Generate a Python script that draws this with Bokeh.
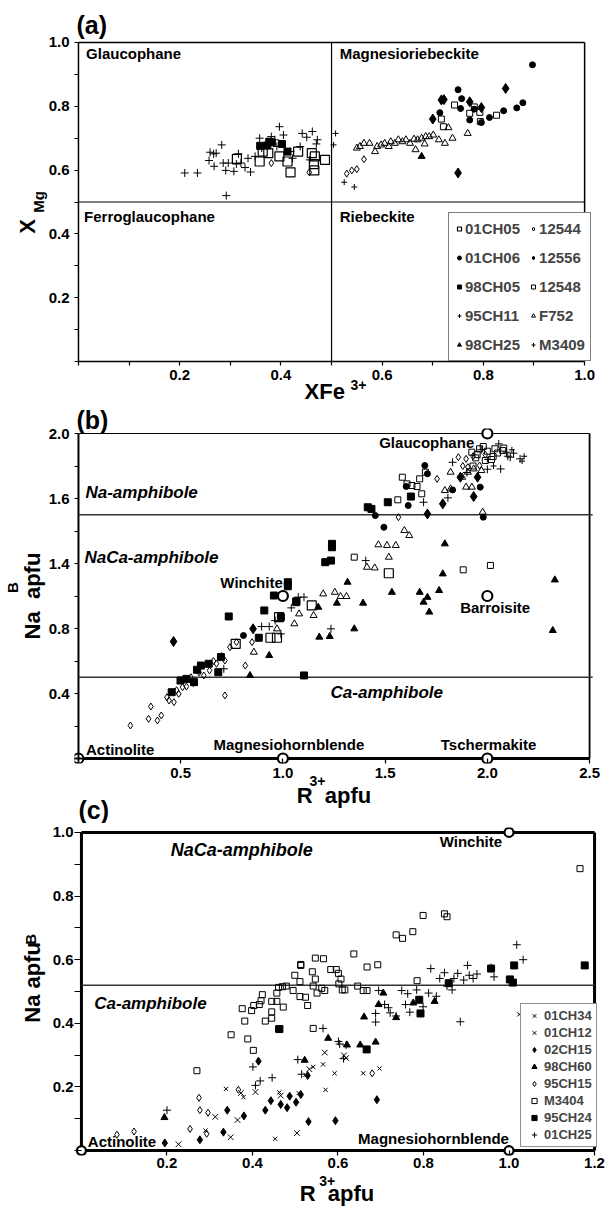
import math
from bokeh.plotting import figure
from bokeh.layouts import column
from bokeh.models import (Range1d, FixedTicker, CustomJSTickFormatter, Label, LinearAxis,
                          Legend, LegendItem, Title)
from bokeh.embed import file_html
from bokeh.resources import INLINE

FONT = "Liberation Sans"
NB = "\u00a0"

# ---------------- Panel (a) data : XFe3+ vs XMg ----------------
A_01CH05_x = [0.313, 0.358, 0.364, 0.375, 0.397, 0.413, 0.419, 0.434, 0.461, 0.467, 0.465, 0.466, 0.487]
A_01CH05_y = [0.635, 0.627, 0.658, 0.653, 0.643, 0.627, 0.593, 0.658, 0.653, 0.643, 0.619, 0.599, 0.632]
A_12544_x = [0.381, 0.456, 0.530, 0.540, 0.550, 0.564]
A_12544_y = [0.622, 0.593, 0.589, 0.599, 0.603, 0.634]
A_01CH06_x = [0.714, 0.750, 0.757, 0.755, 0.773, 0.782, 0.796, 0.812, 0.840, 0.866, 0.878, 0.897]
A_01CH06_y = [0.780, 0.852, 0.824, 0.793, 0.757, 0.791, 0.749, 0.765, 0.786, 0.795, 0.811, 0.930]
A_12556_x = [0.700, 0.717, 0.722, 0.773, 0.796, 0.844, 0.750]
A_12556_y = [0.760, 0.820, 0.821, 0.814, 0.796, 0.856, 0.591]
A_98CH05_x = [0.359, 0.373, 0.377, 0.382, 0.402, 0.413]
A_98CH05_y = [0.676, 0.677, 0.689, 0.687, 0.682, 0.658]
A_12548_x = [0.717, 0.721, 0.743, 0.773, 0.782, 0.793, 0.794, 0.826]
A_12548_y = [0.760, 0.736, 0.804, 0.778, 0.798, 0.781, 0.752, 0.772]
A_95CH11_x = [0.210, 0.235, 0.258, 0.260, 0.267, 0.272, 0.268, 0.283, 0.286, 0.291,
              0.292, 0.296, 0.307, 0.312, 0.321, 0.329, 0.340, 0.316, 0.335, 0.349,
              0.358, 0.362, 0.381, 0.388, 0.397, 0.392, 0.405, 0.419, 0.423, 0.438,
              0.442, 0.451, 0.457, 0.462, 0.472, 0.470]
A_95CH11_y = [0.591, 0.591, 0.630, 0.656, 0.651, 0.653, 0.612, 0.679, 0.622, 0.599,
              0.520, 0.622, 0.596, 0.619, 0.622, 0.608, 0.594, 0.651, 0.637, 0.643,
              0.700, 0.669, 0.705, 0.695, 0.736, 0.674, 0.710, 0.658, 0.637, 0.674,
              0.715, 0.703, 0.632, 0.721, 0.695, 0.682]
A_F752_x = [0.550, 0.556, 0.564, 0.575, 0.586, 0.590, 0.598, 0.605, 0.613, 0.617,
            0.625, 0.632, 0.640, 0.647, 0.655, 0.663, 0.670, 0.678, 0.686, 0.693,
            0.701, 0.666, 0.684, 0.712, 0.724, 0.739, 0.731, 0.769]
A_F752_y = [0.669, 0.674, 0.684, 0.684, 0.658, 0.674, 0.679, 0.684, 0.674, 0.689,
            0.684, 0.695, 0.689, 0.695, 0.684, 0.697, 0.695, 0.700, 0.705, 0.705,
            0.710, 0.664, 0.682, 0.695, 0.684, 0.700, 0.733, 0.715]
A_98CH25_x = [0.678]
A_98CH25_y = [0.643]
A_M3409_x = [0.508, 0.504, 0.525, 0.545]
A_M3409_y = [0.715, 0.679, 0.562, 0.547]

A_xticks = [0.2, 0.4, 0.6, 0.8, 1.0]
A_xminor = [0.0, 0.1, 0.3, 0.5, 0.7, 0.9]
A_yticks = [0.2, 0.4, 0.6, 0.8, 1.0]
A_yminor = [0.0, 0.1, 0.3, 0.5, 0.7, 0.9]
A_divide = 0.5
A_xmax = 1.0
A_ymax = 1.0

# ---------------- Panel (b) data : R3+ vs NaB ----------------
B_01CH05_x = [0.939, 0.971, 0.981, 0.769, 1.141, 1.518]
B_01CH05_y = [0.743, 0.743, 0.870, 0.706, 0.942, 1.140]
B_12548_x = [1.584, 1.669, 1.697, 1.607, 1.631, 1.656, 1.679, 1.562, 1.349, 1.882,
             2.015, 1.924, 1.962, 2.000, 2.037, 2.075, 1.943, 1.990, 2.028, 1.950,
             1.980, 2.050, 2.080, 1.930, 2.020]
B_12548_y = [1.731, 1.721, 1.762, 1.690, 1.680, 1.674, 1.629, 1.592, 1.239, 1.161,
             1.188, 1.885, 1.906, 1.891, 1.906, 1.895, 1.850, 1.834, 1.858, 1.870,
             1.920, 1.880, 1.910, 1.800, 1.840]
B_12544_x = [1.858, 1.896, 1.754, 1.565, 1.905, 1.962, 0.254, 0.354, 0.343, 0.386,
             0.405, 0.433, 0.443, 0.467, 0.490, 0.509, 0.528, 0.562, 0.613, 0.641,
             0.675, 0.716, 0.741, 0.773, 0.816, 0.716, 0.849, 0.480, 0.550, 0.590,
             0.660, 0.700, 1.930, 1.990, 1.880]
B_12544_y = [1.854, 1.844, 1.721, 1.485, 1.793, 1.803, 0.203, 0.320, 0.244, 0.234,
             0.265, 0.377, 0.357, 0.347, 0.398, 0.439, 0.443, 0.464, 0.511, 0.542,
             0.583, 0.603, 0.685, 0.716, 0.572, 0.388, 0.716, 0.420, 0.500, 0.530,
             0.600, 0.630, 1.860, 1.870, 1.800]
B_01CH06_x = [1.694, 1.707, 1.603, 1.613, 1.452, 1.494, 1.830, 1.965, 1.980, 0.807]
B_01CH06_y = [1.803, 1.752, 1.674, 1.557, 1.495, 1.423, 1.653, 1.670, 1.485, 0.757]
B_12556_x = [1.707, 1.782, 1.933, 1.952, 1.868, 0.465, 0.854]
B_12556_y = [1.505, 1.567, 1.612, 1.731, 1.731, 0.720, 0.798]
B_98CH05_x = [1.415, 1.433, 1.513, 1.626, 1.240, 1.240, 1.207, 1.235, 1.024, 1.024,
              0.956, 1.066, 0.735, 0.909, 0.990, 0.882, 0.684, 0.697, 0.637, 0.599,
              0.580, 0.565, 0.528, 0.499, 0.456, 1.103, 1.065]
B_98CH05_y = [1.546, 1.536, 1.577, 1.612, 1.321, 1.300, 1.208, 1.218, 1.085, 1.060,
              1.003, 0.968, 0.874, 0.911, 0.870, 0.743, 0.531, 0.624, 0.583, 0.572,
              0.546, 0.470, 0.490, 0.480, 0.408, 0.511, 0.962]
B_95CH11_x = [2.056, 2.128, 2.160, 2.094, 2.112, 2.065, 1.830, 1.807, 1.688, 1.405,
              1.075, 1.103, 0.711, 0.896, 0.933, 0.962, 0.990, 1.041, 1.235, 1.970,
              2.100, 2.000, 1.900]
B_95CH11_y = [1.936, 1.879, 1.844, 1.885, 1.854, 1.782, 1.823, 1.604, 1.577, 1.218,
              0.993, 0.993, 0.552, 0.812, 0.812, 0.849, 0.767, 0.927, 0.798, 1.900,
              1.860, 1.780, 1.760]
B_F752_x = [1.820, 1.877, 1.905, 1.933, 1.971, 1.792, 1.820, 1.896, 1.924, 1.977,
            1.594, 1.618, 1.467, 1.509, 1.552, 1.518, 1.411, 1.449, 1.197, 1.254,
            1.282, 1.311, 0.858, 0.971, 1.056, 1.079, 1.150]
B_F752_y = [1.762, 1.731, 1.762, 1.782, 1.772, 1.649, 1.659, 1.670, 1.670, 1.516,
            1.403, 1.372, 1.315, 1.311, 1.311, 1.239, 1.177, 1.173, 1.013, 1.023,
            0.997, 0.997, 0.654, 0.798, 0.829, 0.890, 0.880]
B_98CH25_x = [1.316, 1.792, 1.782, 1.533, 1.669, 1.764, 1.707, 1.688, 1.392, 1.264,
              2.330, 1.716, 1.349, 1.178, 1.229, 2.320, 0.839, 0.933, 1.173]
B_98CH25_y = [1.085, 1.321, 1.136, 1.023, 1.023, 1.034, 0.992, 0.962, 0.956, 0.956,
              1.099, 0.901, 0.798, 0.747, 0.751, 0.788, 0.511, 0.634, 0.931]
B_M3409_x = [2.180, 2.000, 2.030, 2.120, 2.170]
B_M3409_y = [1.860, 1.840, 1.800, 1.900, 1.830]

B_end_x = [2.0, 1.0, 2.0, 1.0, 2.0]     # Glaucophane, Winchite, Barroisite, Mg-hornblende, Tschermakite
B_end_y = [2.0, 1.0, 1.0, 0.0, 0.0]
B_act_x = [0.0]                          # Actinolite
B_act_y = [0.0]
B_divide = [1.5, 0.5]
B_line_end = 2.515
B_xmax = 2.5
B_ymax = 2.0
B_xticks = [0.5, 1.0, 1.5, 2.0, 2.5]
B_yticks = [0.4, 0.8, 1.2, 1.6, 2.0]
B_yminor = [0.0, 0.2, 0.6, 1.0, 1.4, 1.8]

# ---------------- Panel (c) data : R3+ vs NaB ----------------
C_M3404_x = [0.350, 0.389, 0.382, 0.398, 0.376, 0.403, 0.416, 0.420, 0.423, 0.445,
             0.445, 0.430, 0.445, 0.457, 0.457, 0.461, 0.472, 0.470, 0.479, 0.495,
             0.499, 0.513, 0.511, 0.511, 0.524, 0.529, 0.540, 0.542, 0.547, 0.547,
             0.551, 0.562, 0.566, 0.569, 0.583, 0.596, 0.601, 0.607, 0.602, 0.610,
             0.616, 0.637, 0.646, 0.659, 0.668, 0.668, 0.693, 0.736, 0.751, 0.775,
             0.799, 0.849, 0.855, 0.785, 1.166, 0.461, 0.542, 0.402, 0.270, 0.513]
C_M3404_y = [0.364, 0.351, 0.407, 0.440, 0.446, 0.456, 0.459, 0.471, 0.490, 0.469,
             0.436, 0.407, 0.416, 0.469, 0.495, 0.513, 0.451, 0.515, 0.517, 0.503,
             0.551, 0.585, 0.531, 0.484, 0.482, 0.456, 0.562, 0.517, 0.605, 0.539,
             0.495, 0.510, 0.603, 0.503, 0.569, 0.569, 0.557, 0.539, 0.524, 0.505,
             0.505, 0.618, 0.517, 0.503, 0.503, 0.577, 0.584, 0.678, 0.667, 0.688,
             0.739, 0.744, 0.735, 0.534, 0.886, 0.382, 0.384, 0.315, 0.251, 0.582]
C_95CH24_x = [0.958, 1.012, 1.002, 1.009, 1.177, 0.790, 0.793, 0.463, 0.859, 0.667]
C_95CH24_y = [0.572, 0.582, 0.538, 0.528, 0.582, 0.474, 0.431, 0.382, 0.526, 0.318]
C_98CH60_x = [0.706, 0.695, 0.661, 0.736, 0.776, 0.826, 0.577, 0.621, 0.652, 0.688, 0.522, 0.194]
C_98CH60_y = [0.495, 0.459, 0.420, 0.418, 0.464, 0.469, 0.353, 0.332, 0.332, 0.341, 0.284, 0.104]
C_02CH15_x = [0.195, 0.277, 0.332, 0.341, 0.380, 0.414, 0.430, 0.443, 0.466, 0.481,
              0.487, 0.502, 0.513, 0.529, 0.531, 0.594, 0.691]
C_02CH15_y = [0.024, 0.034, 0.058, 0.127, 0.109, 0.281, 0.127, 0.157, 0.145, 0.135,
              0.171, 0.152, 0.176, 0.236, 0.091, 0.094, 0.160]
C_95CH15_x = [0.083, 0.123, 0.254, 0.275, 0.277, 0.296, 0.293, 0.680, 0.367]
C_95CH15_y = [0.050, 0.060, 0.068, 0.166, 0.127, 0.119, 0.053, 0.243, 0.191]
C_01CH34_x = [0.227, 0.313, 0.349, 0.365, 0.373, 0.407, 0.466, 0.504, 0.533, 0.569, 0.614, 0.619, 1.045]
C_01CH34_y = [0.020, 0.106, 0.042, 0.096, 0.181, 0.184, 0.173, 0.055, 0.256, 0.308, 0.299, 0.291, 0.418]
C_01CH12_x = [0.290, 0.338, 0.379, 0.463, 0.453, 0.508, 0.524, 0.542, 0.565, 0.571, 0.592, 0.659, 0.697, 1.024]
C_01CH12_y = [0.063, 0.194, 0.168, 0.183, 0.037, 0.181, 0.238, 0.263, 0.271, 0.191, 0.243, 0.243, 0.258, 0.428]
C_01CH25_x = [0.200, 0.401, 0.407, 0.418, 0.446, 0.506, 0.515, 0.565, 0.601, 0.613,
              0.604, 0.619, 0.695, 0.688, 0.688, 0.709, 0.718, 0.722, 0.736, 0.749,
              0.763, 0.758, 0.768, 0.784, 0.799, 0.812, 0.817, 0.830, 0.838, 0.849,
              0.855, 0.867, 0.871, 0.880, 0.886, 0.894, 0.903, 0.907, 0.916, 0.925,
              0.958, 0.965, 1.018, 1.033]
C_01CH25_y = [0.127, 0.263, 0.205, 0.219, 0.229, 0.286, 0.240, 0.384, 0.343, 0.289,
              0.335, 0.332, 0.503, 0.431, 0.404, 0.459, 0.449, 0.433, 0.423, 0.503,
              0.493, 0.459, 0.435, 0.505, 0.452, 0.495, 0.572, 0.485, 0.541, 0.559,
              0.517, 0.505, 0.541, 0.557, 0.405, 0.536, 0.582, 0.551, 0.541, 0.555,
              0.575, 0.546, 0.647, 0.600]

C_end_x = [1.0, 1.0, 0.0]     # Winchite, Mg-hornblende, Actinolite
C_end_y = [1.0, 0.0, 0.0]
C_divide = [0.52]
C_xmax = 1.2
C_ymax = 1.0
C_xticks = [0.2, 0.4, 0.6, 0.8, 1.0, 1.2]
C_yticks = [0.2, 0.4, 0.6, 0.8, 1.0]
C_yminor = [0.0, 0.1, 0.3, 0.5, 0.7, 0.9]

# ---------------- marker styles ----------------
STY = {
    "big_open_sq": dict(marker="square", size=9, line_color="black", fill_color=None, line_width=1.2),
    "small_open_sq": dict(marker="square", size=6, line_color="black", fill_color=None, line_width=1),
    "filled_sq": dict(marker="square", size=7, line_color="black", fill_color="black"),
    "filled_circle": dict(marker="circle", size=6, line_color="black", fill_color="black"),
    "filled_diamond": dict(marker="diamond", size=10, line_color="black", fill_color="black"),
    "open_diamond": dict(marker="diamond", size=7, line_color="black", fill_color=None, line_width=1),
    "plus": dict(marker="cross", size=8, line_color="black", line_width=1),
    "small_plus": dict(marker="cross", size=6, line_color="black", line_width=1),
    "open_tri": dict(marker="triangle", size=7, line_color="black", fill_color=None, line_width=1),
    "filled_tri": dict(marker="triangle", size=7, line_color="black", fill_color="black"),
    "big_x": dict(marker="x", size=8, line_color="black", line_width=1),
    "small_x": dict(marker="x", size=6, line_color="black", line_width=1),
}

# common horizontal frame for all three panels (Bokeh aligns frames in a column)
LEFT = 70
RIGHT = 9
FRAME_W = 608 - LEFT - RIGHT


def fmt(override=False):
    if override:
        return CustomJSTickFormatter(code="if (Math.abs(tick-1.2)<1e-6) {return '1.4';} return tick.toFixed(1);")
    return CustomJSTickFormatter(code="return tick.toFixed(1);")


def lab(p, x, y, text, size, italic=False, align="left", baseline="middle"):
    p.add_layout(Label(x=x, y=y, text=text, text_font=FONT, text_font_size=f"{size}px",
                       text_font_style="bold italic" if italic else "bold",
                       text_align=align, text_baseline=baseline, text_color="black"))


def title_axis(p, side, text, size, standoff):
    ax = LinearAxis(ticker=FixedTicker(ticks=[]), axis_label=text, axis_label_standoff=standoff,
                    axis_label_text_font=FONT, axis_label_text_font_size=f"{size}px",
                    axis_label_text_font_style="bold", axis_label_text_color="black",
                    axis_line_color=None, major_tick_line_color=None, minor_tick_line_color=None,
                    major_tick_in=0, major_tick_out=0, minor_tick_in=0, minor_tick_out=0,
                    major_label_standoff=0)
    p.add_layout(ax, side)


def style_title(p, size, offset, standoff):
    p.title.text_font = FONT
    p.title.text_font_size = f"{size}px"
    p.title.text_font_style = "bold"
    p.title.text_color = "black"
    p.title.align = "left"
    p.title.offset = offset
    p.title.standoff = standoff


def base_axes(p, xt, xm, yt, ym, tin_x, tout_x, tin_y, tout_y, xstand, ystand, yover=False):
    p.xgrid.visible = False
    p.ygrid.visible = False
    p.outline_line_color = None
    p.background_fill_color = "white"
    p.border_fill_color = "white"
    p.xaxis.ticker = FixedTicker(ticks=xt, minor_ticks=xm)
    p.yaxis.ticker = FixedTicker(ticks=yt, minor_ticks=ym)
    p.xaxis.formatter = fmt()
    p.yaxis.formatter = fmt(yover)
    for ax, tin, tout, st in ((p.xaxis, tin_x, tout_x, xstand), (p.yaxis, tin_y, tout_y, ystand)):
        ax.axis_line_color = None
        ax.major_tick_in = tin
        ax.major_tick_out = tout
        ax.minor_tick_in = tin
        ax.minor_tick_out = tout
        ax.major_tick_line_color = "black"
        ax.minor_tick_line_color = "black"
        ax.major_tick_line_width = 1.2
        ax.minor_tick_line_width = 1.2
        ax.major_label_text_font = FONT
        ax.major_label_text_font_size = "15px"
        ax.major_label_text_font_style = "bold"
        ax.major_label_text_color = "black"
        ax.major_label_standoff = st


def box(p, xmax, ymax, widths):
    # bottom, left, top, right
    p.segment(x0=[0, 0, 0, xmax], y0=[0, 0, ymax, 0], x1=[xmax, 0, xmax, xmax], y1=[0, ymax, ymax, ymax],
              line_color="black", line_width=widths)


# ======================= Panel (a) =======================
a_px = 510.0                       # pixels per unit x
a_py = 321.0                       # pixels per unit y
a_x0 = -(74 - LEFT) / a_px
a_x1 = a_x0 + FRAME_W / a_px
a_pad = 3 / a_py
pa = figure(width=608, height=406, x_range=Range1d(a_x0, a_x1), y_range=Range1d(-a_pad, A_ymax + a_pad),
            title="(a)", output_backend="svg", toolbar_location=None,
            min_border_left=LEFT, min_border_right=RIGHT, min_border_top=39, min_border_bottom=40)
style_title(pa, 25, 2, 2)
base_axes(pa, A_xticks, A_xminor, A_yticks, A_yminor, 3, 1, 4, 0, 4, 5)
box(pa, A_xmax, A_ymax, [1.5, 1.5, 1.5, 1.5])
pa.segment(x0=[A_divide, 0], y0=[0, A_divide], x1=[A_divide, A_xmax], y1=[A_ymax, A_divide],
           line_color="black", line_width=1.2)

ra = {}
ra["01CH05"] = pa.scatter(A_01CH05_x, A_01CH05_y, **STY["big_open_sq"])
ra["12544"] = pa.scatter(A_12544_x, A_12544_y, **STY["open_diamond"])
ra["01CH06"] = pa.scatter(A_01CH06_x, A_01CH06_y, **STY["filled_circle"])
ra["12556"] = pa.scatter(A_12556_x, A_12556_y, **STY["filled_diamond"])
ra["98CH05"] = pa.scatter(A_98CH05_x, A_98CH05_y, **STY["filled_sq"])
ra["12548"] = pa.scatter(A_12548_x, A_12548_y, **STY["small_open_sq"])
ra["95CH11"] = pa.scatter(A_95CH11_x, A_95CH11_y, **STY["plus"])
ra["F752"] = pa.scatter(A_F752_x, A_F752_y, **STY["open_tri"])
ra["98CH25"] = pa.scatter(A_98CH25_x, A_98CH25_y, **STY["filled_tri"])
ra["M3409"] = pa.scatter(A_M3409_x, A_M3409_y, **STY["small_plus"])

order_a = ["01CH05", "01CH06", "98CH05", "95CH11", "98CH25",
           "12544", "12556", "12548", "F752", "M3409"]
leg_a = Legend(items=[LegendItem(label=k, renderers=[ra[k]]) for k in order_a],
               ncols=2, orientation="vertical", location=(444 - LEFT, 3),
               label_text_font=FONT, label_text_font_size="15px", label_text_font_style="bold",
               glyph_width=10, glyph_height=21, label_height=21, spacing=8, padding=5,
               label_standoff=1, margin=0, border_line_color="black", border_line_width=1.2,
               background_fill_color="white", background_fill_alpha=1.0)
pa.add_layout(leg_a)

lab(pa, 0.015, 0.965, "Glaucophane", 15)
lab(pa, 0.516, 0.965, "Magnesioriebeckite", 15)
lab(pa, 0.011, 0.453, "Ferroglaucophane", 15)
lab(pa, 0.516, 0.453, "Riebeckite", 15)
title_axis(pa, "below", NB * 11 + "3+", 14, -6)
title_axis(pa, "below", "XFe" + NB * 4, 22, -17)
title_axis(pa, "left", "Mg", 15, -1)
title_axis(pa, "left", "X" + NB * 8, 22, -13)

# ======================= Panel (b) =======================
b_px = 206.0
b_py = 162.5
b_x0 = -(74 - LEFT) / b_px
b_x1 = b_x0 + FRAME_W / b_px
b_pad = 5 / b_py
pb = figure(width=608, height=417, x_range=Range1d(b_x0, b_x1), y_range=Range1d(-b_pad, B_ymax + b_pad),
            title="(b)", output_backend="svg", toolbar_location=None,
            min_border_left=LEFT, min_border_right=RIGHT, min_border_top=22, min_border_bottom=60)
style_title(pb, 25, 2, -10)
base_axes(pb, B_xticks, [], B_yticks, B_yminor, 5, 0, 4, 0, 4, 5, yover=True)
box(pb, B_xmax, B_ymax, [3, 2, 1.2, 1.8])
pb.segment(x0=[0] * len(B_divide), y0=B_divide, x1=[B_line_end] * len(B_divide), y1=B_divide,
           line_color="#333333", line_width=1.5)

rb = {}
rb["01CH05"] = pb.scatter(B_01CH05_x, B_01CH05_y, **STY["big_open_sq"])
rb["12548"] = pb.scatter(B_12548_x, B_12548_y, **STY["small_open_sq"])
rb["12544"] = pb.scatter(B_12544_x, B_12544_y, **STY["open_diamond"])
rb["01CH06"] = pb.scatter(B_01CH06_x, B_01CH06_y, **STY["filled_circle"])
rb["12556"] = pb.scatter(B_12556_x, B_12556_y, **STY["filled_diamond"])
rb["98CH05"] = pb.scatter(B_98CH05_x, B_98CH05_y, **STY["filled_sq"])
rb["95CH11"] = pb.scatter(B_95CH11_x, B_95CH11_y, **STY["plus"])
rb["F752"] = pb.scatter(B_F752_x, B_F752_y, **STY["open_tri"])
rb["98CH25"] = pb.scatter(B_98CH25_x, B_98CH25_y, **STY["filled_tri"])
rb["M3409"] = pb.scatter(B_M3409_x, B_M3409_y, **STY["small_plus"])
pb.scatter(B_end_x, B_end_y, marker="circle", size=10, line_color="black", fill_color="white", line_width=2.2)
pb.scatter(B_act_x, B_act_y, marker="circle_cross", size=10, line_color="black", fill_color="white", line_width=1.8)

lab(pb, 1.471, 1.946, "Glaucophane", 15)
lab(pb, 0.034, 1.639, "Na-amphibole", 17, italic=True)
lab(pb, 0.029, 1.239, "NaCa-amphibole", 17, italic=True)
lab(pb, 0.694, 1.085, "Winchite", 15)
lab(pb, 1.867, 0.927, "Barroisite", 15)
lab(pb, 1.233, 0.408, "Ca-amphibole", 17, italic=True)
lab(pb, 0.037, 0.055, "Actinolite", 15)
lab(pb, 0.660, 0.086, "Magnesiohornblende", 15)
lab(pb, 1.772, 0.086, "Tschermakite", 15)
title_axis(pb, "below", "3+" + NB * 10, 14, -8)
title_axis(pb, "below", "R" + NB * 2 + "apfu" + NB, 22, -9)
pb.add_layout(Title(text="(c)", align="left", offset=4, standoff=-29, vertical_align="top",
                    text_font=FONT, text_font_size="25px", text_font_style="bold",
                    text_color="black"), "below")
title_axis(pb, "left", "Na" + NB * 2 + "apfu", 22, 1)
title_axis(pb, "left", NB * 4 + "B", 15, -4)

# ======================= Panel (c) =======================
c_px = 517.0 / 1.2
c_py = 325.0
c_x0 = -(77 - LEFT) / c_px
c_x1 = c_x0 + FRAME_W / c_px
c_pad = 5 / c_py
pc = figure(width=608, height=385, x_range=Range1d(c_x0, c_x1), y_range=Range1d(-c_pad, C_ymax + c_pad),
            output_backend="svg", toolbar_location=None,
            min_border_left=LEFT, min_border_right=RIGHT, min_border_top=4, min_border_bottom=46)
base_axes(pc, C_xticks, [], C_yticks, C_yminor, 5, 0, 7, 0, 2, 1)
box(pc, C_xmax, C_ymax, [3, 3, 3, 3])
pc.segment(x0=[0] * len(C_divide), y0=C_divide, x1=[C_xmax] * len(C_divide), y1=C_divide,
           line_color="#333333", line_width=1.5)

rc = {}
rc["M3404"] = pc.scatter(C_M3404_x, C_M3404_y, **STY["small_open_sq"])
rc["95CH15"] = pc.scatter(C_95CH15_x, C_95CH15_y, **STY["open_diamond"])
rc["01CH34"] = pc.scatter(C_01CH34_x, C_01CH34_y, **STY["big_x"])
rc["01CH12"] = pc.scatter(C_01CH12_x, C_01CH12_y, **STY["small_x"])
rc["02CH15"] = pc.scatter(C_02CH15_x, C_02CH15_y, **dict(STY["filled_diamond"], size=8))
rc["98CH60"] = pc.scatter(C_98CH60_x, C_98CH60_y, **STY["filled_tri"])
rc["95CH24"] = pc.scatter(C_95CH24_x, C_95CH24_y, **STY["filled_sq"])
rc["01CH25"] = pc.scatter(C_01CH25_x, C_01CH25_y, **STY["plus"])
pc.scatter(C_end_x, C_end_y, marker="circle", size=9, line_color="black", fill_color="white", line_width=2.2)

order_c = ["01CH34", "01CH12", "02CH15", "98CH60", "95CH15", "M3404", "95CH24", "01CH25"]
leg_c = Legend(items=[LegendItem(label=k, renderers=[rc[k]]) for k in order_c],
               location=(516 - LEFT, 8),
               label_text_font=FONT, label_text_font_size="13px", label_text_font_style="bold",
               glyph_width=18, glyph_height=13, label_height=13, spacing=2, padding=4,
               label_standoff=1, margin=0, border_line_color="#222222", border_line_width=1.5,
               background_fill_color="white", background_fill_alpha=1.0)
pc.add_layout(leg_c)

lab(pc, 0.209, 0.945, "NaCa-amphibole", 18, italic=True)
lab(pc, 0.838, 0.970, "Winchite", 15)
lab(pc, 0.030, 0.462, "Ca-amphibole", 17, italic=True)
lab(pc, 0.015, 0.028, "Actinolite", 15)
lab(pc, 0.647, 0.037, "Magnesiohornblende", 15)
title_axis(pc, "below", "3+" + NB * 5, 14, 2)
title_axis(pc, "below", "R" + NB * 2 + "apfu", 22, -11)
title_axis(pc, "left", NB * 3 + "Na" + NB + "apfu", 22, 5)
title_axis(pc, "left", NB * 25 + "B", 15, -22)

layout = column(pa, pb, pc, spacing=0)
open("out.html", "w").write(file_html(layout, INLINE))
